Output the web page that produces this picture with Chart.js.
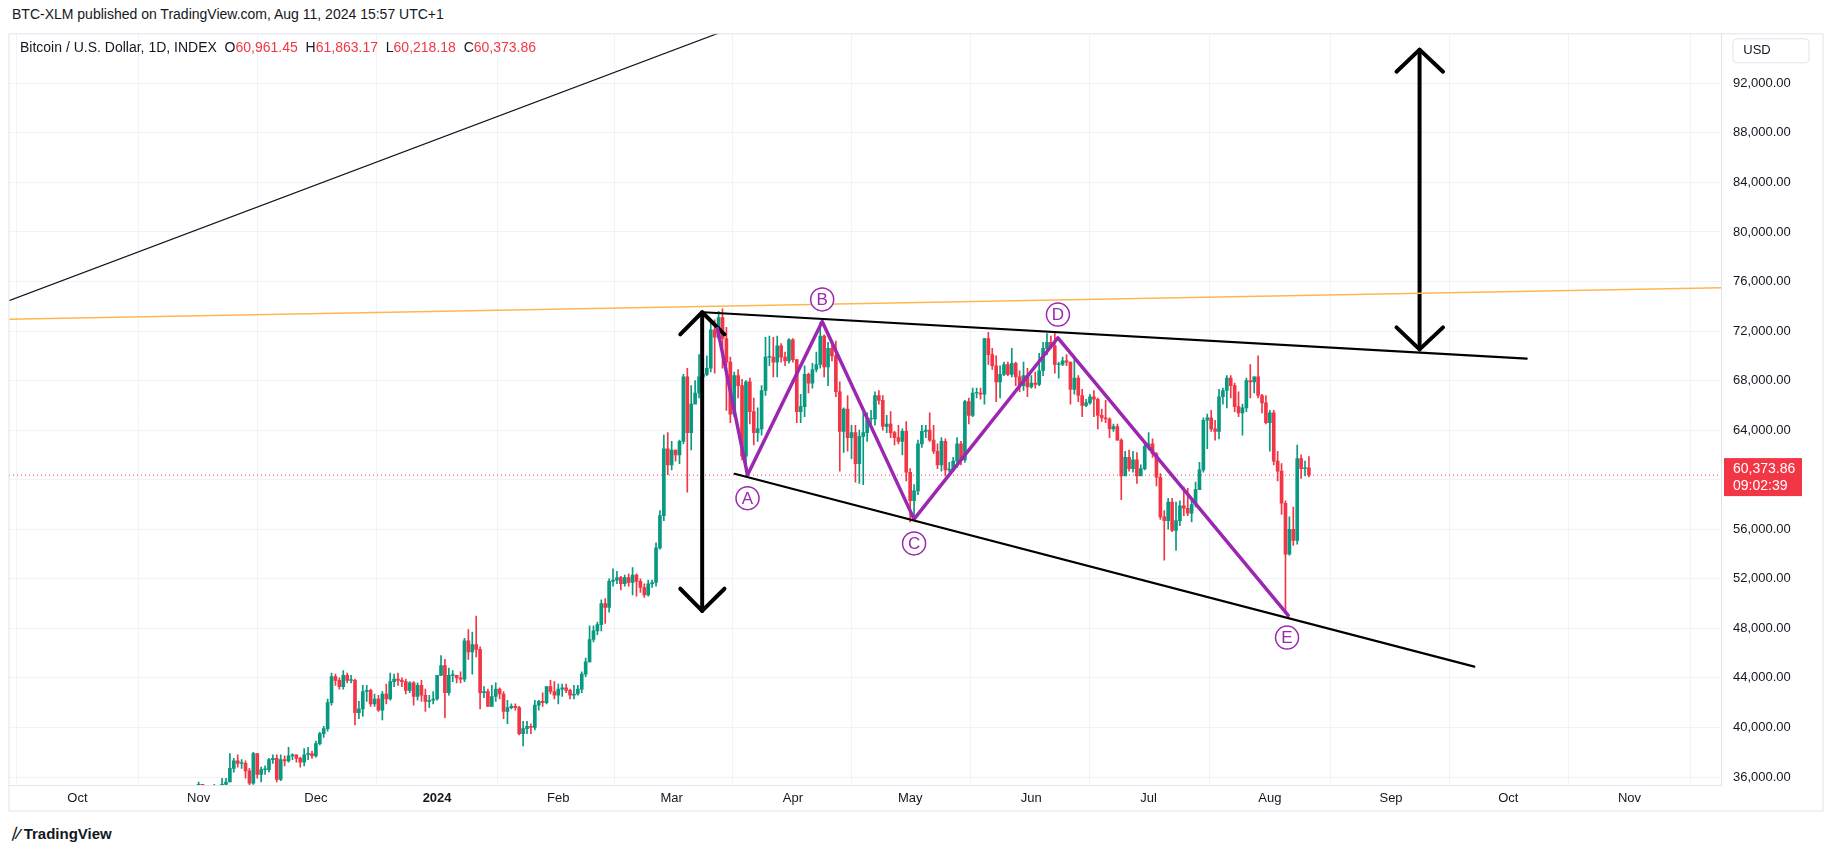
<!DOCTYPE html>
<html><head><meta charset="utf-8">
<script src="https://cdn.jsdelivr.net/npm/chart.js@4/dist/chart.umd.min.js"></script>
<style>
body{margin:0;background:#fff;width:1824px;height:853px;overflow:hidden;font-family:"Liberation Sans",Arial,sans-serif;position:relative}
#hdr{position:absolute;left:12px;top:6px;font-size:14px;color:#131722}
#leg{position:absolute;left:20px;top:39px;font-size:14px;color:#131722;z-index:2}
#leg .r{color:#F23645}
#ft{position:absolute;left:12px;top:825px;font-size:15px;font-weight:bold;color:#131722}
#wrap{position:absolute;left:0;top:14px;width:1824px;height:798px}
</style></head><body>
<div id="hdr">BTC-XLM published on TradingView.com, Aug 11, 2024 15:57 UTC+1</div>
<div id="leg">Bitcoin / U.S. Dollar, 1D, INDEX&nbsp;&nbsp;O<span class="r">60,961.45</span>&nbsp;&nbsp;H<span class="r">61,863.17</span>&nbsp;&nbsp;L<span class="r">60,218.18</span>&nbsp;&nbsp;C<span class="r">60,373.86</span></div>
<div id="ft">⧸⁄ TradingView</div>
<div id="wrap"><canvas id="c"></canvas></div>
<script>
// Day index relative to Jan 1 2024; first candle = Nov 1 2023 (day -61)
const firstDay = -61;
const firstOpen = 34.6;
const closes = [
35.4,34.9,34.7,35.0,35.0,35.0,35.4,35.6,36.7,37.3,37.1,37.1,36.5,35.5,37.9,36.2,36.6,36.6,37.4,37.5,35.8,37.4,37.3,37.7,37.8,37.5,37.2,37.8,37.9,37.7,
38.7,39.5,39.9,42.0,44.1,43.8,43.3,44.2,43.8,43.8,41.2,41.5,42.9,43.0,41.9,42.3,41.4,42.7,42.3,43.7,43.9,43.8,43.7,43.0,43.6,42.5,43.4,42.6,42.1,42.2,42.3,
44.2,45.0,42.8,44.2,44.2,44.0,43.9,47.0,46.1,46.7,46.3,42.8,42.9,41.7,42.5,43.1,42.7,41.3,41.6,41.7,41.6,39.5,39.9,40.1,40.0,41.8,42.1,42.0,43.3,42.9,42.6,
43.1,43.2,43.0,42.6,42.7,43.1,44.3,45.3,47.1,47.8,48.3,50.0,49.7,51.8,51.9,52.1,51.6,52.1,51.7,52.3,51.8,51.3,50.7,51.6,51.7,54.5,57.1,62.5,61.2,
62.4,62.0,63.1,68.3,63.8,66.1,67.0,68.3,68.5,69.0,72.1,71.5,73.1,71.4,69.5,65.3,68.4,67.6,61.9,67.9,65.5,63.8,64.1,67.2,69.9,69.9,69.5,70.8,69.9,69.6,71.3,
69.7,65.5,65.9,68.5,67.8,68.9,69.3,71.6,69.1,70.6,70.0,67.1,63.9,65.7,63.4,63.8,61.3,63.5,63.8,64.9,64.9,66.8,66.4,64.3,64.5,63.8,63.4,63.1,63.9,60.6,
58.3,59.1,62.9,63.9,64.0,63.2,62.3,61.2,63.1,60.8,60.8,61.5,62.9,61.6,66.3,65.2,67.0,67.0,66.9,71.4,70.1,69.2,67.9,68.5,69.3,68.5,69.4,68.3,67.6,68.4,67.5,
67.8,67.7,68.8,70.6,71.1,70.8,69.3,69.3,69.6,69.5,67.3,68.2,66.8,66.0,66.2,66.7,66.5,65.2,65.0,64.9,64.1,64.3,63.2,60.3,61.8,60.9,61.6,60.3,60.9,62.7,
62.9,62.1,60.2,57.0,56.7,58.2,55.9,56.7,57.9,57.7,57.3,58.0,59.2,60.8,64.8,65.0,64.1,63.9,66.7,67.2,68.2,67.6,65.9,65.4,65.8,68.0,67.9,68.3,66.8,66.2,64.6,
65.4,61.5,60.7,58.1,54.0,56.0,55.1,61.7,60.9,60.96,60.37];
const highs = [
35.6,35.3,35.0,35.3,35.4,35.3,35.9,35.9,37.9,37.5,37.8,37.4,37.3,36.7,38.0,37.9,36.8,36.9,37.5,37.8,37.8,37.8,37.7,38.4,37.9,37.8,37.6,38.3,38.4,38.1,
38.9,39.6,40.1,42.3,44.4,44.3,44.0,44.6,44.4,44.2,43.9,42.1,43.4,43.4,43.1,42.7,42.6,42.9,43.5,44.4,44.3,44.4,44.0,43.9,43.7,43.7,43.6,43.8,43.1,42.6,42.9,
44.2,45.8,45.5,44.8,44.6,44.2,44.5,47.2,47.9,47.7,49.0,46.5,43.3,43.1,43.4,43.6,43.2,42.9,42.2,41.9,41.9,41.7,40.5,40.5,40.3,42.2,42.2,42.8,43.3,43.8,43.7,
43.5,43.5,43.5,43.1,43.4,43.4,44.5,45.6,48.2,48.2,48.5,50.3,50.4,52.0,52.8,52.6,52.2,52.3,52.4,52.9,52.4,52.0,51.6,51.9,51.9,54.9,57.5,63.6,63.8,
63.1,62.4,63.2,68.5,69.0,67.6,68.0,70.1,69.0,70.0,72.8,72.9,73.6,73.8,72.3,69.9,68.7,68.9,68.1,68.0,68.2,66.6,65.8,67.6,71.5,71.6,71.5,71.6,71.0,70.3,71.4,
71.4,69.7,66.9,69.2,68.6,69.4,70.3,72.7,71.7,71.1,71.2,71.2,67.9,65.8,66.8,64.4,64.4,64.0,65.4,65.4,65.6,67.1,67.2,66.8,65.2,65.5,63.9,64.4,64.1,64.7,
60.9,59.6,63.2,64.4,64.4,65.4,64.4,62.9,63.4,63.3,61.4,61.8,63.4,63.1,66.4,66.6,67.4,67.4,67.4,71.4,71.9,70.6,70.0,69.2,69.5,69.5,70.6,69.5,68.8,69.5,69.0,
68.4,68.7,70.2,71.1,71.8,71.6,71.9,69.5,69.9,70.1,69.5,69.9,68.4,67.3,66.5,66.9,67.2,66.6,65.7,66.4,65.0,64.5,64.5,63.3,62.3,62.4,62.3,62.2,61.2,63.0,
63.8,63.3,62.2,60.5,57.5,58.5,58.5,58.2,58.3,59.4,59.3,58.4,59.8,61.4,65.0,65.3,65.6,64.8,67.3,67.4,68.4,68.4,67.8,67.1,66.1,68.2,69.3,68.3,70.0,66.9,66.8,
65.6,65.6,62.3,61.3,58.3,57.0,57.8,62.8,62.0,61.5,61.86];
const lows = [
34.3,34.2,34.1,34.4,34.7,34.7,34.9,35.3,35.6,36.4,36.8,36.7,35.9,35.2,35.4,35.9,35.6,36.2,36.4,37.1,35.6,35.7,36.9,37.2,37.4,37.2,36.8,36.9,37.4,37.5,
37.6,38.6,39.2,39.7,41.8,43.4,43.1,43.1,43.6,43.6,40.2,40.7,40.9,42.1,41.7,41.7,41.3,40.6,41.9,42.2,43.3,43.4,43.3,42.7,42.8,41.8,42.2,42.1,41.3,41.6,41.9,
42.2,44.2,40.8,42.6,43.7,43.6,43.6,43.7,45.5,44.3,45.7,41.5,42.4,41.7,41.7,42.1,42.3,40.7,40.3,41.5,41.4,39.4,38.5,39.5,39.5,39.8,41.4,41.7,41.9,42.7,42.3,
41.9,42.5,42.8,42.3,42.3,42.6,42.8,44.1,45.3,46.9,47.5,47.8,48.4,49.3,51.4,51.6,51.1,51.4,51.4,50.7,50.6,50.9,50.5,50.6,51.3,51.4,54.4,56.7,60.4,
60.8,61.5,61.3,62.9,59.0,62.4,66.2,66.6,68.0,68.4,68.7,68.6,71.3,69.0,65.6,64.6,65.1,66.6,61.6,60.8,64.5,62.8,63.1,63.6,66.8,69.2,68.3,68.3,69.5,69.2,69.4,
69.5,64.6,64.6,65.1,67.0,67.4,68.7,69.0,68.3,67.6,69.6,66.7,60.7,62.2,62.3,61.7,59.8,59.7,59.6,63.1,64.5,64.4,66.1,64.0,63.8,63.4,62.8,62.9,62.0,59.9,
56.6,56.9,58.8,62.6,63.4,63.1,62.1,60.9,60.7,60.3,60.6,60.7,61.0,61.2,61.4,64.5,65.1,66.6,66.5,66.1,69.3,68.9,66.3,66.6,68.4,68.4,68.3,67.6,67.1,67.2,66.7,
67.4,67.4,67.6,68.4,70.1,70.6,68.6,68.2,69.2,69.2,66.1,66.9,66.3,65.1,65.9,66.1,65.1,64.1,64.7,64.6,63.4,63.9,63.2,58.4,60.7,60.7,60.6,59.7,60.6,60.8,
62.4,61.8,59.5,56.8,53.5,56.0,55.8,54.3,56.3,57.1,57.1,56.6,57.8,59.7,60.6,62.5,63.9,63.2,63.3,66.1,65.8,66.6,65.5,65.1,63.6,65.5,66.6,67.0,66.6,65.4,64.5,
62.3,61.2,59.9,57.2,49.2,53.9,54.7,54.8,60.1,60.3,60.22];

const monthTicks = [-92,-61,-31,0,31,60,91,121,152,182,213,244,274,305];
const monthLabels = ['Oct','Nov','Dec','2024','Feb','Mar','Apr','May','Jun','Jul','Aug','Sep','Oct','Nov'];
const priceTicks = [36000,40000,44000,48000,52000,56000,60000,64000,68000,72000,76000,80000,84000,88000,92000];
const lastPrice = 60373.86;

// drawings [day, price]
const orangeLine = [[-109.5,72958],[328.4,75490]];
const blackDiag = [[-109.5,74460],[72.6,96127]];
const upperTrend = [[68.1,73520],[278.7,69770]];
const lowerTrend = [[76.1,60480],[265.3,44910]];
const zigzag = [[71.7,72210],[79.4,60390],[98.5,72770],[122.0,56820],[158.8,71460],[217.7,49040]];
const leftShaft = [[67.8,73520],[67.8,49410]];
const leftHeadTop = [[62.2,71740],[67.8,73520],[73.5,71740]];
const leftHeadBot = [[62.2,51200],[67.8,49410],[73.5,51200]];
const rightShaft = [[251.3,94720],[251.3,70520]];
const rightHeadTop = [[245.4,92940],[251.3,94720],[257.3,92940]];
const rightHeadBot = [[245.4,72300],[251.3,70520],[257.3,72300]];
const waveLabels = [['A',79.4,58514],['B',98.5,74553],['C',122.0,54855],['D',158.8,73334],['E',217.4,47257]];

const UP='#089981', DN='#F23645';
const bodies=[], wicks=[], cols=[];
let prev = firstOpen;
closes.forEach((c,i)=>{
  const o = i===closes.length-1 ? 60.96145 : prev;
  const x = firstDay+i;
  const lo=Math.min(o,c)*1000, hi=Math.max(o,c)*1000;
  bodies.push({x, y:[lo, Math.max(hi, lo+60)]});
  wicks.push({x, y:[lows[i]*1000, highs[i]*1000]});
  cols.push(c>=o?UP:DN);
  prev = c;
});

const pts = a => a.map(p=>({x:p[0], y:p[1]}));
function lineDs(a,color,w,dash){return {type:'line',data:pts(a),borderColor:color,borderWidth:w,pointRadius:0,fill:false,tension:0,borderDash:dash||[],order:0,borderCapStyle:'round',borderJoinStyle:'round',clip:true};}

const overlay = {
  id:'overlay',
  beforeDatasetsDraw(ch){
    const {ctx,chartArea:a,scales:{y}} = ch;
    const py = y.getPixelForValue(lastPrice);
    ctx.save();ctx.strokeStyle=DN;ctx.lineWidth=1;ctx.setLineDash([1,3]);
    ctx.beginPath();ctx.moveTo(a.left,py);ctx.lineTo(a.right,py);ctx.stroke();ctx.restore();
  },
  afterDraw(ch){
    const {ctx,chartArea:a,scales:{x,y}} = ch;
    ctx.save();
    waveLabels.forEach(([t,d,p])=>{
      const cx=x.getPixelForValue(d), cy=y.getPixelForValue(p);
      ctx.fillStyle='#fff';ctx.strokeStyle='#9c27b0';ctx.lineWidth=1.5;
      ctx.beginPath();ctx.arc(cx,cy,11.5,0,Math.PI*2);ctx.fill();ctx.stroke();
      ctx.fillStyle='#9c27b0';ctx.font='17px "Liberation Sans", Arial';ctx.textAlign='center';ctx.textBaseline='middle';
      ctx.fillText(t,cx,cy+1);
    });
    const py=y.getPixelForValue(lastPrice);
    ctx.fillStyle=DN;ctx.fillRect(a.right+3,py-17,78,38);
    ctx.fillStyle='#fff';ctx.font='14px "Liberation Sans", Arial';ctx.textAlign='left';ctx.textBaseline='middle';
    ctx.fillText('60,373.86',a.right+12,py-6);ctx.fillText('09:02:39',a.right+12,py+11);
    ctx.strokeStyle='#e0e3eb';ctx.lineWidth=1;ctx.beginPath();ctx.roundRect(a.right+12,a.top+5,76,24,4);ctx.stroke();
    ctx.fillStyle='#131722';ctx.font='13px "Liberation Sans", Arial';ctx.textAlign='center';
    ctx.fillText('USD',a.right+36,a.top+17);
    ctx.strokeStyle='#e0e3eb';ctx.strokeRect(a.left,a.top,ch.width-a.left-1,ch.height-a.top-1);
    ctx.restore();
  }
};

new Chart(document.getElementById('c'),{
  type:'bar',
  data:{datasets:[
    lineDs(orangeLine,'#ffb74d',1.5),
    lineDs(blackDiag,'#131722',1.2),
    lineDs(upperTrend,'#000',2.2),
    lineDs(lowerTrend,'#000',2.2),
    lineDs(zigzag,'#9c27b0',3.5),
    lineDs(leftShaft,'#000',4),lineDs(leftHeadTop,'#000',4),lineDs(leftHeadBot,'#000',4),
    lineDs(rightShaft,'#000',4),lineDs(rightHeadTop,'#000',4),lineDs(rightHeadBot,'#000',4),
    {type:'bar',data:wicks,backgroundColor:cols,barThickness:1,grouped:false,order:2},
    {type:'bar',data:bodies,backgroundColor:cols,barThickness:3,grouped:false,order:1}
  ]},
  options:{
    responsive:true,maintainAspectRatio:false,animation:false,
    layout:{padding:{left:9,top:0,right:0,bottom:0}},
    plugins:{legend:{display:false},tooltip:{enabled:false}},
    scales:{
      x:{type:'linear',min:-109.5,max:328.4,offset:false,
        afterBuildTicks(s){s.ticks=monthTicks.map(v=>({value:v}));},
        ticks:{autoSkip:false,maxRotation:0,color:'#131722',padding:6,
          font:c=>({family:'"Liberation Sans", Arial',size:13,weight:c.tick&&c.tick.value===0?'bold':'normal'}),
          callback:v=>monthLabels[monthTicks.indexOf(v)]},
        grid:{color:'#f0f3fa',drawTicks:false},border:{color:'#e0e3eb'},
        afterFit(s){s.height=27;}},
      y:{position:'right',min:35355,max:96000,
        afterBuildTicks(s){s.ticks=priceTicks.map(v=>({value:v}));},
        ticks:{color:'#131722',padding:12,font:{family:'"Liberation Sans", Arial',size:13},
          callback:v=>v.toLocaleString('en-US',{minimumFractionDigits:2})},
        grid:{color:'#f0f3fa',drawTicks:false},border:{color:'#e0e3eb'},
        afterFit(s){s.width=103;}}
    }
  },
  plugins:[overlay]
});
</script></body></html>
